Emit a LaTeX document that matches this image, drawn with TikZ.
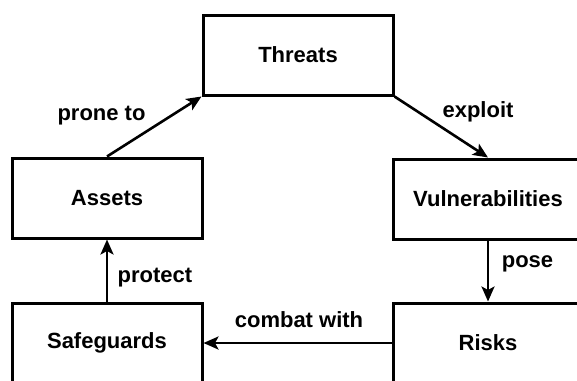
\documentclass[tikz,border=0pt]{standalone}
\usepackage{fontspec}
\setmainfont{Liberation Sans}
\usetikzlibrary{arrows.meta}
\begin{document}
\begin{tikzpicture}[x=1pt,y=-1pt,
  box/.style={draw, line width=3pt, minimum width=190pt, minimum height=80pt, inner sep=0pt, font=\fontsize{22}{26}\selectfont\bfseries},
  conn/.style={line width=2.6pt, -{Stealth[length=15pt,width=13pt,inset=3.5pt]}},
  lbl/.style={anchor=base, inner sep=0pt, font=\fontsize{22}{26}\selectfont\bfseries}]
\useasboundingbox (0,0) rectangle (577,380);
\clip (0,0) rectangle (577,380);
\fill[white] (0,0) rectangle (577,380);
\node[box] (threats) at (298,55) {Threats};
\node[box] (assets) at (107,198) {Assets};
\node[box] (vuln) at (488,199) {Vulnerabilities};
\node[box] (safe) at (107,343) {Safeguards};
\node[box] (risks) at (488,343) {Risks};
\draw[conn] (assets.north) -- (threats.south west);
\draw[conn] (threats.south east) -- (vuln.north);
\draw[conn] (vuln.south) -- (risks.north);
\draw[conn] (risks.west) -- (safe.east);
\draw[conn] (safe.north) -- (assets.south);
\node[lbl] (l1) at (101.5,120) {prone to};
\node[lbl] (l2) at (478,117) {exploit};
\node[lbl] (l3) at (527.5,267) {pose};
\node[lbl] (l4) at (155,282) {protect};
\node[lbl] (l5) at (299,327) {combat with};
\end{tikzpicture}
\end{document}
